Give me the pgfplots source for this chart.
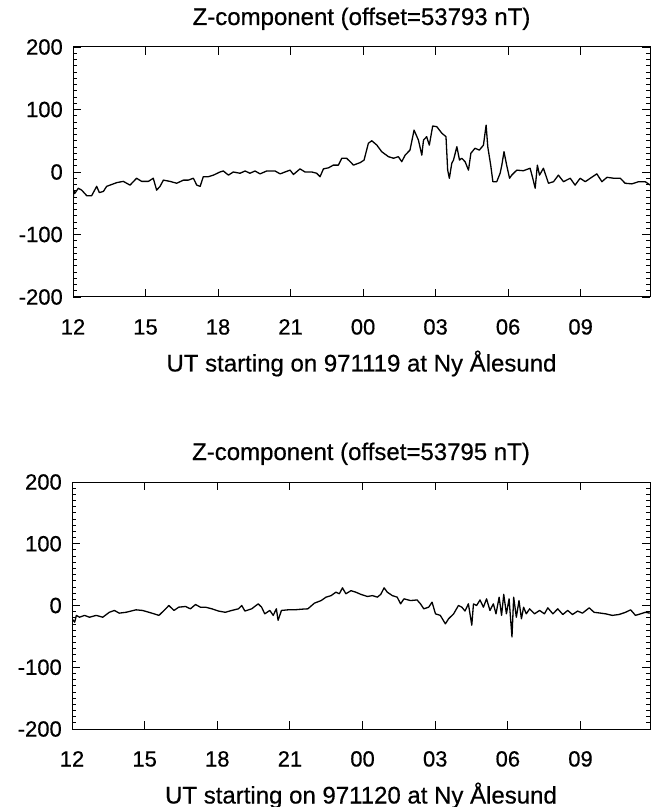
\documentclass[border=0pt]{standalone}
\usepackage{fontspec}
\setmainfont{Liberation Sans}[FakeBold=0.5]
\usepackage{pgfplots}
\pgfplotsset{compat=1.18}
\pgfplotstableread{
h v
12.00 -45
12.04 -30
12.08 -34
12.22 -26
12.36 -29
12.57 -38
12.77 -38
12.98 -23
13.09 -33
13.26 -31
13.39 -23
13.53 -21
13.81 -17
14.08 -15
14.36 -21
14.63 -10
14.84 -15
15.12 -15
15.32 -10
15.46 -29
15.60 -23
15.74 -13
16.01 -15
16.29 -18
16.57 -13
16.77 -13
16.98 -10
17.12 -21
17.26 -23
17.39 -7.5
17.60 -7.5
17.81 -5
18.08 0
18.22 1.6
18.43 -5
18.63 0
18.91 -2
19.12 1.6
19.32 -2
19.53 1.6
19.74 -3
20.01 1.6
20.36 1.6
20.57 -3
20.77 0
20.98 3
21.12 -4
21.39 5
21.60 0
21.88 0
22.08 -2
22.22 -7.5
22.36 5
22.57 6.7
22.77 11
22.98 11
23.12 22
23.32 22
23.53 14
23.60 11
23.88 15
24.04 19
24.22 46
24.36 50
24.57 43
24.77 32.5
25.05 24.5
25.26 22
25.46 24.5
25.60 16.5
25.74 27
25.94 35
26.11 67
26.29 51
26.43 27
26.50 51
26.63 56.5
26.74 43
26.88 73.6
27.05 72.5
27.26 62
27.43 56.5
27.50 3
27.57 -10
27.67 14
27.74 19
27.88 40.5
27.99 19
28.08 22
28.22 16.5
28.36 3
28.46 30
28.63 38
28.81 35
28.98 43
29.09 75
29.16 40
29.28 11
29.37 -15.5
29.53 -15.5
29.67 -2
29.74 11
29.83 32.5
29.94 11
30.06 -10
30.15 -5
30.36 3
30.63 2
30.91 6
31.02 -10
31.12 -26
31.21 11
31.30 -5
31.46 6
31.67 -18
31.88 -15.5
32.08 -5
32.29 -15.5
32.57 -10
32.77 -21
32.98 -10
33.19 -15.5
33.40 -10
33.67 -3
33.88 -15.5
34.09 -8.5
34.37 -10
34.64 -10
34.84 -18
35.12 -19
35.40 -15.5
35.67 -15.5
35.88 -21
}\topdata
\pgfplotstableread{
h v
12.00 -21.6
12.11 -27
12.18 -16
12.31 -19
12.52 -16
12.72 -19
13.00 -16
13.27 -19
13.54 -11
13.75 -8
13.95 -12.4
14.23 -11
14.64 -7
14.91 -8
15.18 -11
15.39 -13.5
15.59 -16
15.87 -5.4
16.00 0
16.21 -8
16.41 -2.7
16.69 -1.6
16.89 -5.4
17.10 1.6
17.30 -2.7
17.51 -2.7
17.78 -5.4
18.05 -9
18.33 -11
18.60 -8
18.87 -5.4
19.01 0
19.14 -9
19.42 -5.4
19.69 2.7
19.83 -2.7
19.96 -13.5
20.17 -8
20.31 -16
20.44 -5.4
20.51 -24
20.65 -8
20.92 -7
21.19 -7
21.47 -6
21.74 -5.4
22.01 3.8
22.29 8
22.49 13.5
22.70 16
22.90 21.6
23.04 19
23.17 28.6
23.31 19
23.52 24
23.72 21.6
23.93 18
24.20 14.6
24.41 16
24.61 13.5
24.75 18
24.89 28.6
25.02 21.6
25.23 16
25.43 13.5
25.57 2.7
25.71 10.8
25.98 8
26.25 9
26.39 2.7
26.53 -5.4
26.73 -2.7
26.87 5.4
27.01 -13.5
27.21 -16
27.42 -29.7
27.55 -21.6
27.76 -13.5
27.96 0
28.10 -2.7
28.23 -9
28.37 2.7
28.51 -32
28.58 2.7
28.71 0
28.85 9
28.99 -2.7
29.12 10.8
29.26 -8
29.40 2.7
29.51 -13.5
29.64 13.5
29.74 -16
29.83 18
29.94 -13.5
30.05 10.8
30.17 -51
30.24 13.5
30.35 -19
30.46 8
30.56 -21.6
30.65 -2.7
30.76 -13.5
30.90 -5.4
31.10 -13.5
31.31 -8
31.51 -13.5
31.65 -3.8
31.86 -13.5
32.06 -5.4
32.27 -14.6
32.47 -8
32.67 -14.6
32.88 -9
33.08 -12.4
33.36 -3.8
33.56 -11
33.84 -12.4
34.04 -13.5
34.31 -16
34.59 -14.6
34.86 -11
35.07 -7
35.27 -16
35.48 -13.5
35.68 -11
35.86 -12.4
}\botdata
\pgfplotsset{
  zstyle/.style={
    scale only axis,
    xmin=12, xmax=35.87,
    ymin=-200, ymax=200,
    xtick={12,15,18,21,24,27,30,33},
    xticklabels={12,15,18,21,00,03,06,09},
    ytick={-200,-100,0,100,200},
    yticklabels={-200,-100,0,100,200},
    minor y tick num=9,
    major tick length=8pt,
    minor tick length=4pt,
    tick align=inside,
    tick style={black, line width=0.9pt},
    axis line style={black, line width=1pt},
    tick label style={font=\fontsize{22}{22}\selectfont, inner sep=0pt},
    xticklabel style={anchor=base, yshift=-37.5pt},
    yticklabel style={anchor=east, xshift=-10pt},
    label style={font=\fontsize{24}{24}\selectfont, inner sep=0pt},
    xlabel style={at={(rel axis cs:0.5,0)}, anchor=base, yshift=-74.5pt},
    title style={font=\fontsize{24}{24}\selectfont, inner sep=0pt, at={(rel axis cs:0.5,1)}, anchor=base, yshift=16pt},
  }
}
\begin{document}
\begin{tikzpicture}
\useasboundingbox (0,0) rectangle (651pt,807pt);
\begin{axis}[zstyle, at={(73pt,510pt)}, anchor=south west, width=577pt, height=250pt,
  title={Z-component (offset=53793 nT)},
  xlabel={UT starting on 971119 at Ny Ålesund}]
\addplot[black, line width=1.3pt, line join=round] table[x=h, y=v] {\topdata};
\end{axis}
\begin{axis}[zstyle, at={(72pt,78pt)}, anchor=south west, width=578pt, height=247pt,
  title={Z-component (offset=53795 nT)},
  xlabel={UT starting on 971120 at Ny Ålesund}]
\addplot[black, line width=1.3pt, line join=round] table[x=h, y=v] {\botdata};
\end{axis}
\end{tikzpicture}
\end{document}
